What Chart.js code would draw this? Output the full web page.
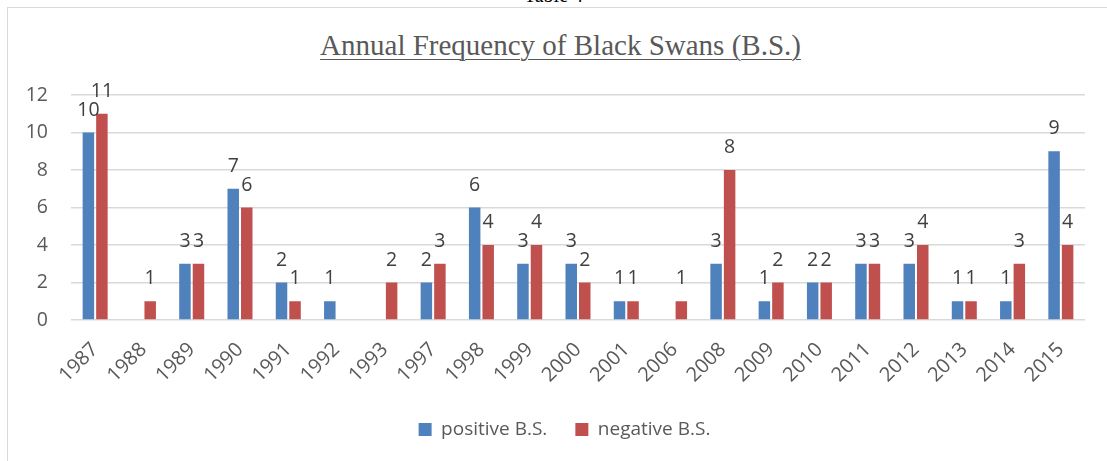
<!DOCTYPE html>
<html>
<head>
  <title>Annual Frequency of Black Swans</title>
  <style>
    body {
      margin: 0;
      background: #ffffff;
      overflow: hidden;
    }
    #frame {
      position: absolute;
      left: 7px;
      top: 7px;
      width: 1120px;
      height: 480px;
      border: 1.5px solid #d9d9d9;
    }
    #tableCap {
      position: absolute;
      left: 0;
      width: 1107px;
      top: -16px;
      text-align: center;
      font-family: "Liberation Serif", serif;
      font-size: 20px;
      color: #000;
    }
    #title {
      position: absolute;
      left: 0;
      width: 1121px;
      top: 31px;
      line-height: 29px;
      text-align: center;
      font-family: "Liberation Serif", serif;
      font-size: 29px;
      color: #595959;
      text-decoration: underline;
      text-decoration-thickness: 1px;
      text-underline-offset: 4px;
    }
    canvas {
      position: absolute;
      left: 0;
      top: 0;
    }
  </style>
</head>
<body>
  <div id="tableCap">Table 4</div>
  <div id="frame"></div>
  <div id="title">Annual Frequency of Black Swans (B.S.)</div>
  <canvas id="bsChart" width="1107" height="461"></canvas>

  <script src="https://cdn.jsdelivr.net/npm/chart.js"></script>
  <script>
    // 年份
    const years = ['1987', '1988', '1989', '1990', '1991', '1992', '1993', '1997', '1998', '1999', '2000',
                   '2001', '2006', '2008', '2009', '2010', '2011', '2012', '2013', '2014', '2015'];
    // 正向黑天鹅
    const positiveBS = [10, 0, 3, 7, 2, 1, 0, 2, 6, 3, 3, 1, 0, 3, 1, 2, 3, 3, 1, 1, 9];
    // 负向黑天鹅
    const negativeBS = [11, 1, 3, 6, 1, 0, 2, 3, 4, 4, 2, 1, 1, 8, 2, 2, 3, 4, 1, 3, 4];
    const yTicks = [0, 2, 4, 6, 8, 10, 12];

    const numFont = '"Open Sans", sans-serif';

    // 柱顶数值标签（0 不显示）
    const valueLabels = {
      id: 'valueLabels',
      afterDatasetsDraw(chart) {
        const ctx = chart.ctx;
        ctx.save();
        ctx.font = '19.5px ' + numFont;
        ctx.fillStyle = '#404040';
        ctx.textAlign = 'center';
        ctx.textBaseline = 'alphabetic';
        chart.data.datasets.forEach((ds, i) => {
          chart.getDatasetMeta(i).data.forEach((bar, j) => {
            if (!ds.data[j]) return;
            ctx.fillText(ds.data[j], bar.x, bar.y - 17);
          });
        });
        ctx.restore();
      }
    };

    // 图例整体右移，与外框居中
    const legendShift = {
      id: 'legendShift',
      afterLayout(chart) {
        chart.legend.left += 22;
        chart.legend.right += 22;
      }
    };

    new Chart(document.getElementById('bsChart').getContext('2d'), {
      type: 'bar',
      data: {
        labels: years,
        datasets: [
          { label: 'positive B.S.', data: positiveBS, backgroundColor: '#4f81bd' },
          { label: 'negative B.S.', data: negativeBS, backgroundColor: '#c0504d' }
        ]
      },
      options: {
        responsive: false,
        animation: false,
        devicePixelRatio: 1,
        categoryPercentage: 0.56,
        barPercentage: 0.85,
        layout: { padding: { left: 0, right: 22, top: 95, bottom: 12 } },
        plugins: {
          title: { display: false },
          tooltip: { enabled: false },
          legend: {
            position: 'bottom',
            labels: {
              boxWidth: 13,
              boxHeight: 13,
              padding: 28,
              color: '#595959',
              font: { family: numFont, size: 19 }
            }
          }
        },
        scales: {
          x: {
            grid: { display: false },
            border: { display: false },
            afterFit(axis) { axis.height = 72; },
            ticks: {
              color: '#595959',
              font: { family: numFont, size: 20 },
              minRotation: 45,
              maxRotation: 45,
              padding: 10
            }
          },
          y: {
            min: 0,
            max: 12,
            afterBuildTicks(axis) {
              axis.ticks = yTicks.map(v => ({ value: v }));
            },
            afterFit(axis) { axis.width = 71; },
            grid: { color: '#d9d9d9', lineWidth: 1.5, drawTicks: false },
            border: { display: false },
            ticks: {
              color: '#595959',
              font: { family: numFont, size: 19.5 },
              padding: 23
            }
          }
        }
      },
      plugins: [valueLabels, legendShift]
    });
  </script>
</body>
</html>
